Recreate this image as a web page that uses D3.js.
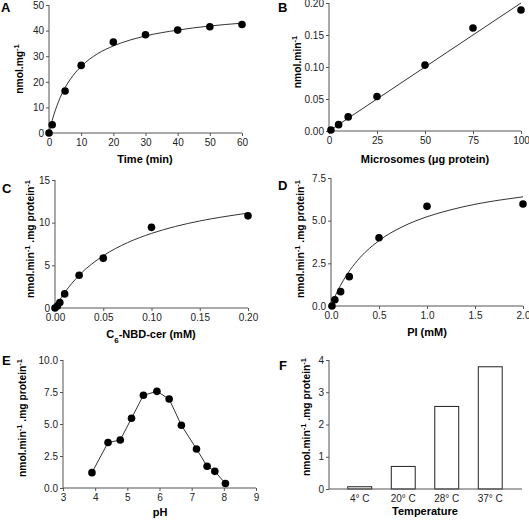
<!DOCTYPE html>
<html><head><meta charset="utf-8">
<script src="https://cdn.jsdelivr.net/npm/d3@7"></script>
<style>
body{margin:0;background:#fff;}
svg{font-family:"Liberation Sans",Arial,sans-serif;}
.tick text{font-size:10px;fill:#222;}
.domain,.tick line{stroke:#555;}
</style></head><body>
<svg id="c" width="529" height="520"></svg>
<script>
// Panel A: time course
const timeMin = [0, 1, 5, 10, 20, 30, 40, 50, 60];
const timeVal = [0, 3.2, 16.4, 26.4, 35.5, 38.4, 40.2, 41.5, 42.4];
const timeFitX = [0, 1, 2, 3, 5, 7.5, 10, 15, 20, 30, 40, 50, 60];
const timeFitY = [0, 5.0, 9.0, 12.4, 17.7, 22.5, 26.0, 30.9, 34.0, 37.9, 40.2, 41.8, 42.9];
const timeTicks = [0, 10, 20, 30, 40, 50, 60];
const timeYTicks = [0, 10, 20, 30, 40, 50];
// Panel B: microsomes
const microX = [1, 5, 10, 25, 50, 75, 100];
const microVal = [0.0015, 0.0099, 0.022, 0.054, 0.103, 0.161, 0.189];
const microFitX = [0, 100];
const microFitY = [0, 0.2];
const microTicks = [0, 25, 50, 75, 100];
const microYTicks = [0, 0.05, 0.10, 0.15, 0.20];
// Panel C: C6-NBD-cer
const cerX = [0, 0.0025, 0.005, 0.01, 0.025, 0.05, 0.1, 0.2];
const cerVal = [0, 0.24, 0.63, 1.65, 3.84, 5.84, 9.45, 10.8];
const cerFitX = [0, 0.005, 0.01, 0.025, 0.05, 0.075, 0.1, 0.125, 0.15, 0.175, 0.2];
const cerFitY = [0, 0.96, 1.8, 3.83, 6.12, 7.65, 8.74, 9.56, 10.2, 10.7, 11.13];
const cerTicks = [0, 0.05, 0.10, 0.15, 0.20];
const cerYTicks = [0, 5, 10, 15];
// Panel D: PI
const piX = [0.01, 0.04, 0.1, 0.19, 0.5, 1.0, 2.0];
const piVal = [0, 0.37, 0.84, 1.72, 4.0, 5.84, 5.98];
const piFitX = [0, 0.05, 0.1, 0.2, 0.3, 0.5, 0.75, 1.0, 1.25, 1.5, 1.75, 2.0];
const piFitY = [0, 0.66, 1.22, 2.12, 2.82, 3.83, 4.66, 5.23, 5.64, 5.96, 6.2, 6.4];
const piTicks = [0, 0.5, 1.0, 1.5, 2.0];
const piYTicks = [0, 2.5, 5.0, 7.5];
// Panel E: pH
const phX = [3.9, 4.4, 4.78, 5.13, 5.5, 5.92, 6.3, 6.68, 7.15, 7.48, 7.72, 8.05];
const phVal = [1.2, 3.55, 3.75, 5.45, 7.25, 7.55, 6.95, 4.9, 3.05, 1.7, 1.3, 0.35];
const phTicks = [3, 4, 5, 6, 7, 8, 9];
const phYTicks = [0, 2.5, 5.0, 7.5, 10.0];
// Panel F: temperature
const tempCats = ["4\u00b0 C", "20\u00b0 C", "28\u00b0 C", "37\u00b0 C"];
const tempVal = [0.07, 0.70, 2.56, 3.79];
const tempYTicks = [0, 1, 2, 3, 4];

const svg = d3.select("#c");
const zip = (a, b) => a.map((v, i) => [v, b[i]]);

function yTitle(g, x, y, parts) {
  const t = g.append("text").attr("transform", `translate(${x},${y}) rotate(-90)`)
    .attr("text-anchor", "middle").attr("font-size", 10.3).attr("font-weight", "bold").attr("fill", "#000");
  parts.forEach(p => {
    const ts = t.append("tspan").text(p.t);
    if (p.sup) ts.attr("font-size", 7.5).attr("baseline-shift", "super");
  });
}
function letter(x, y, s) {
  svg.append("text").attr("x", x).attr("y", y).attr("font-size", 13).attr("font-weight", "bold").text(s);
}
function xTitle(x, y, parts) {
  const t = svg.append("text").attr("x", x).attr("y", y).attr("text-anchor", "middle")
    .attr("font-size", 11).attr("font-weight", "bold");
  parts.forEach(p => {
    const ts = t.append("tspan").text(p.t);
    if (p.sub) ts.attr("font-size", 8).attr("baseline-shift", "sub");
  });
}

function scatterPanel(o) {
  const x = d3.scaleLinear().domain(o.xd).range(o.xr);
  const y = d3.scaleLinear().domain(o.yd).range(o.yr);
  const g = svg.append("g");
  g.append("g").attr("transform", `translate(0,${o.yr[0]})`)
    .call(d3.axisBottom(x).tickValues(o.xt).tickSize(3).tickPadding(3).tickFormat(o.xf || d3.format("")))
    .call(a => a.select(".domain").attr("d", `M${o.xr[0]},0H${o.xr[1]}`));
  g.append("g").attr("transform", `translate(${o.xr[0]},0)`)
    .call(d3.axisLeft(y).tickValues(o.yt).tickSize(3).tickPadding(2).tickFormat(o.yf || d3.format("")))
    .call(a => a.select(".domain").attr("d", `M0,${o.yr[0]}V${o.yr[1]}`));
  const line = d3.line().x(d => x(d[0])).y(d => y(d[1]));
  if (o.fit) {
    g.append("path").datum(o.fit).attr("fill", "none").attr("stroke", "#333").attr("stroke-width", 1)
      .attr("d", line.curve(o.linear ? d3.curveLinear : d3.curveMonotoneX));
  }
  if (o.connect) {
    g.append("path").datum(o.pts).attr("fill", "none").attr("stroke", "#333").attr("stroke-width", 1)
      .attr("d", d3.line().x(d => x(d[0])).y(d => y(d[1])));
  }
  g.selectAll("circle").data(o.pts).join("circle")
    .attr("cx", d => x(d[0])).attr("cy", d => y(d[1])).attr("r", 3.8).attr("fill", "#000");
  return g;
}

// A
let gA = scatterPanel({xd:[0,60], xr:[49,242], yd:[0,50], yr:[133,5], xt:timeTicks, yt:timeYTicks,
  pts: zip(timeMin, timeVal), fit: zip(timeFitX, timeFitY)});
letter(1, 12, "A");
yTitle(gA, 23, 69, [{t:"nmol.mg"},{t:"-1", sup:true}]);
xTitle(145, 163, [{t:"Time (min)"}]);

// B
let gB = scatterPanel({xd:[0,100], xr:[329,521], yd:[0,0.2], yr:[131,3], xt:microTicks, yt:microYTicks,
  yf: d3.format(".2f"), pts: zip(microX, microVal), fit: zip(microFitX, microFitY), linear:true});
letter(278, 12, "B");
yTitle(gB, 301, 62, [{t:"nmol.min"},{t:"-1", sup:true}]);
xTitle(425, 163, [{t:"Microsomes (\u03bcg protein)"}]);

// C
let gC = scatterPanel({xd:[0,0.2], xr:[55,248], yd:[0,15], yr:[308,180], xt:cerTicks, yt:cerYTicks,
  xf: d3.format(".2f"), pts: zip(cerX, cerVal), fit: zip(cerFitX, cerFitY)});
letter(2, 193, "C");
yTitle(gC, 34, 239, [{t:"nmol.min"},{t:"-1", sup:true},{t:" .mg protein"},{t:"-1", sup:true}]);
xTitle(151, 338, [{t:"C"},{t:"6", sub:true},{t:"-NBD-cer (mM)"}]);

// D
let gD = scatterPanel({xd:[0,2], xr:[331,523], yd:[0,7.5], yr:[306,178], xt:piTicks, yt:piYTicks,
  xf: d3.format(".1f"), yf: d3.format(".1f"), pts: zip(piX, piVal), fit: zip(piFitX, piFitY)});
letter(278, 190, "D");
yTitle(gD, 304, 239, [{t:"nmol.min"},{t:"-1", sup:true},{t:" .mg protein"},{t:"-1", sup:true}]);
xTitle(427, 336, [{t:"PI (mM)"}]);

// E
let gE = scatterPanel({xd:[3,9], xr:[63,256], yd:[0,10], yr:[488,360], xt:phTicks, yt:phYTicks,
  yf: d3.format(".1f"), pts: zip(phX, phVal), connect:true});
letter(2, 365, "E");
yTitle(gE, 26, 418, [{t:"nmol.min"},{t:"-1", sup:true},{t:" .mg protein"},{t:"-1", sup:true}]);
xTitle(160, 516, [{t:"pH"}]);

// F
(function(){
  const x = d3.scaleBand().domain(tempCats).range([338, 512]).paddingInner(0.45).paddingOuter(0.225);
  const y = d3.scaleLinear().domain([0,4]).range([489,360]);
  const g = svg.append("g");
  g.selectAll("rect").data(tempCats).join("rect")
    .attr("x", d => x(d)).attr("width", x.bandwidth())
    .attr("y", (d,i) => y(tempVal[i])).attr("height", (d,i) => y(0) - y(tempVal[i]))
    .attr("fill", "#fff").attr("stroke", "#222").attr("stroke-width", 1);
  g.append("g").attr("transform", `translate(0,489)`)
    .call(d3.axisBottom(x).tickSize(0).tickPadding(6))
    .call(a => a.select(".domain").attr("d", "M329,0H522"));
  g.append("g").attr("transform", `translate(329,0)`)
    .call(d3.axisLeft(y).tickValues(tempYTicks).tickSize(3).tickPadding(2).tickFormat(d3.format("")))
    .call(a => a.select(".domain").attr("d", "M0,489V360"));
  letter(279, 370, "F");
  yTitle(g, 310, 417, [{t:"nmol.min"},{t:"-1", sup:true},{t:" .mg protein"},{t:"-1", sup:true}]);
  xTitle(425, 515, [{t:"Temperature"}]);
})();
</script></body></html>
